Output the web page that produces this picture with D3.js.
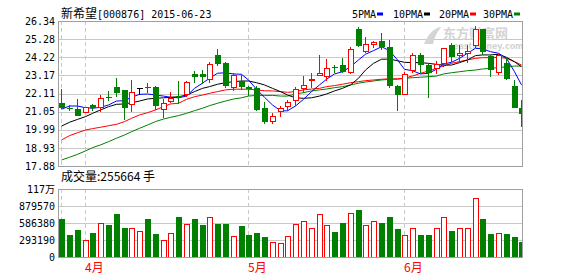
<!DOCTYPE html>
<html>
<head>
<meta charset="utf-8">
<script src="https://cdn.jsdelivr.net/npm/d3@7/dist/d3.min.js"></script>
<style>
body { margin: 0; background: #fff; }
svg text { font-family: "DejaVu Sans Mono", "Noto Sans CJK SC", monospace; font-size: 10px; fill: #000; }
svg .cjk { font-family: "Noto Sans CJK SC", sans-serif; font-size: 12px; }
</style>
</head>
<body>
<svg id="chart" width="578" height="276"></svg>
<script>
// ---- data ----
var stockName = "新希望";
var stockCode = "[000876]";
var lastDate = "2015-06-23";

var dates = ["03-27","03-30","03-31",
  "04-01","04-02","04-03","04-07","04-08","04-09","04-10","04-13","04-14","04-15","04-16","04-17",
  "04-20","04-21","04-22","04-23","04-24","04-27","04-28","04-29","04-30",
  "05-04","05-05","05-06","05-07","05-08","05-11","05-12","05-13","05-14","05-15",
  "05-18","05-19","05-20","05-21","05-22","05-25","05-26","05-27","05-28","05-29",
  "06-01","06-02","06-03","06-04","06-05","06-08","06-09","06-10","06-11","06-12",
  "06-15","06-16","06-17","06-18","06-19","06-23"];

var opens = [21.57,21.26,21.19,21.01,21.44,21.30,21.91,22.49,22.31,21.44,
  22.41,22.51,22.49,21.15,21.67,21.96,22.04,23.25,23.25,22.90,
  24.37,23.89,22.47,22.82,22.51,22.45,21.26,20.47,21.07,21.38,
  21.73,22.41,22.86,23.15,23.09,23.67,23.79,23.35,25.87,24.55,
  24.94,25.17,24.81,22.55,22.06,23.44,24.36,23.77,23.58,23.87,
  24.92,24.30,24.46,24.92,25.86,24.32,23.32,23.87,22.55,21.28];
var highs = [22.37,21.44,21.79,21.32,21.48,22.00,22.26,23.00,22.34,22.90,
  22.43,22.74,22.55,21.77,22.21,22.84,22.82,23.44,23.48,23.97,
  24.71,23.95,23.29,23.19,22.52,22.57,21.60,20.95,21.38,21.73,
  22.51,23.13,23.32,24.37,24.12,23.77,24.18,24.84,26.01,25.42,
  25.17,25.62,25.23,22.58,23.38,24.46,24.49,23.81,24.02,24.79,
  25.07,24.92,24.92,26.05,25.87,24.36,24.40,24.20,22.90,21.73];
var lows = [21.23,21.11,20.81,20.97,21.11,21.05,21.67,21.92,20.56,21.05,
  22.02,22.16,21.15,20.70,21.54,21.50,21.92,22.71,22.66,22.71,
  23.71,22.41,22.27,22.31,21.96,21.09,20.33,20.33,20.76,21.09,
  21.38,22.16,22.41,23.15,22.86,23.29,23.31,23.23,24.82,24.46,
  24.75,24.65,22.41,21.11,22.02,23.29,23.29,21.86,23.23,23.67,
  23.97,23.87,23.87,24.75,24.36,23.09,23.19,22.90,21.26,20.17];
var closes = [21.28,21.23,20.81,21.28,21.25,21.79,21.87,22.16,21.28,22.18,
  22.41,22.47,21.38,21.54,21.79,21.91,22.78,23.05,23.05,23.81,
  23.81,22.55,23.17,22.51,22.37,21.15,20.47,20.76,21.22,21.60,
  22.35,22.59,22.94,23.29,23.58,23.64,23.35,24.69,24.88,24.98,
  25.07,24.84,22.55,22.02,23.19,24.34,23.79,23.29,23.81,24.76,
  24.26,24.46,24.57,25.86,24.55,23.48,24.32,22.94,21.28,20.90];

var volumes = [660000,379000,466000,288000,414000,581000,552000,742000,500000,495000,
  443000,660000,397000,288000,409000,690000,564000,660000,552000,685000,
  569000,569000,345000,535000,379000,414000,345000,254000,241000,362000,
  569000,616000,500000,736000,535000,431000,586000,754000,811000,547000,
  616000,586000,690000,483000,379000,500000,379000,379000,500000,685000,
  448000,483000,483000,1017000,655000,397000,397000,397000,345000,255664];

var ma5 = [21.19,21.38,21.38,21.28,21.25,21.30,21.44,21.67,21.69,21.89,
  22.06,22.08,22.02,21.96,21.89,21.86,21.96,22.41,22.71,23.00,
  23.29,23.32,23.25,23.23,22.90,22.36,21.89,21.44,21.10,21.10,
  21.38,21.77,22.22,22.61,22.94,23.25,23.38,23.67,24.07,24.40,
  24.61,24.84,24.61,24.07,23.52,23.44,23.25,23.29,23.52,23.83,
  23.93,24.16,24.46,24.75,24.71,24.55,24.46,24.16,23.38,22.61];
var ma10 = [20.21,20.43,20.60,20.76,20.95,21.15,21.34,21.48,21.50,21.57,
  21.67,21.79,21.83,21.86,21.89,21.92,22.02,22.22,22.41,22.51,
  22.65,22.74,22.80,22.84,22.84,22.74,22.61,22.41,22.22,22.02,
  21.86,21.83,21.86,21.96,22.08,22.26,22.41,22.61,23.00,23.48,
  23.87,24.11,24.12,24.02,23.93,23.91,23.91,23.87,23.81,23.77,
  23.77,23.91,24.07,24.32,24.36,24.36,24.40,24.22,23.96,23.67];
var ma20 = [19.40,19.65,19.82,19.98,20.06,20.14,20.23,20.31,20.47,20.66,
  20.86,20.99,21.15,21.34,21.50,21.54,21.77,21.92,22.02,22.12,
  22.22,22.32,22.36,22.36,22.36,22.32,22.27,22.26,22.22,22.18,
  22.22,22.32,22.37,22.41,22.51,22.57,22.65,22.74,22.80,22.86,
  22.90,22.94,22.97,22.97,23.00,23.13,23.29,23.42,23.58,23.71,
  23.87,23.97,24.07,24.16,24.20,24.20,24.22,24.16,23.97,23.77];
var ma30 = [18.23,18.39,18.56,18.76,18.95,19.11,19.30,19.50,19.69,19.88,
  20.08,20.27,20.47,20.62,20.72,20.82,20.95,21.11,21.25,21.40,
  21.54,21.67,21.79,21.86,21.96,22.00,22.00,22.00,21.96,21.96,
  22.08,22.16,22.26,22.32,22.37,22.45,22.51,22.61,22.71,22.78,
  22.84,22.90,22.94,22.94,23.00,23.03,23.06,23.09,23.13,23.25,
  23.32,23.38,23.44,23.48,23.54,23.58,23.62,23.67,23.71,23.71];

var priceTicks = [17.88,18.93,19.99,21.05,22.11,23.17,24.22,25.28,26.34];
var volTicks = [0,293190,586380,879570,1172760];
var volTickLabels = ["0","293190","586380","879570","117万"];
var maNames = ["5PMA","10PMA","20PMA","30PMA"];
var maColors = ["#0000ff","#000000","#ff0000","#008000"];
var volumeLabel = "成交量:255664 手";

// ---- layout ----
var left = 58, right = 522.5;
var pTop = 21, pBottom = 166;
var vTop = 189, vBottom = 257;
var upColor = "#ff0000", downColor = "#008000";
var gridColor = "#c8c8c8", frameColor = "#a0a0a0";

var svg = d3.select("#chart");

var x = d3.scaleBand().domain(d3.range(dates.length)).range([57.3, 525.3]);
function cx(i){ return Math.round(x(i) + x.step() / 2); }

var y = d3.scaleLinear().domain([17.88, 26.34]).range([pBottom, pTop]);
var yv = d3.scaleLinear().domain([0, 1172760]).range([vBottom, vTop]);

svg.append("defs").append("clipPath").attr("id", "clip")
  .append("rect").attr("x", left).attr("y", 0).attr("width", right - left).attr("height", 276);

// horizontal grid
svg.append("g").selectAll("line").data(priceTicks).enter().append("line")
  .attr("x1", left).attr("x2", right)
  .attr("y1", function(d){ return Math.round(y(d)) + 0.5; })
  .attr("y2", function(d){ return Math.round(y(d)) + 0.5; })
  .attr("stroke", gridColor);
svg.append("g").selectAll("line").data(volTicks).enter().append("line")
  .attr("x1", left).attr("x2", right)
  .attr("y1", function(d){ return Math.round(yv(d)) + 0.5; })
  .attr("y2", function(d){ return Math.round(yv(d)) + 0.5; })
  .attr("stroke", gridColor);

// month separators
var monthStarts = [];
dates.forEach(function(d, i){
  if (i == 0 || d.slice(0,2) != dates[i-1].slice(0,2)) monthStarts.push(i);
});
var vg = svg.append("g");
monthStarts.forEach(function(i){
  [[pTop, pBottom], [vTop, vBottom]].forEach(function(r){
    vg.append("line").attr("x1", cx(i) + 0.5).attr("x2", cx(i) + 0.5)
      .attr("y1", r[0]).attr("y2", r[1])
      .attr("stroke", gridColor).attr("stroke-dasharray", "4,3");
  });
});
svg.append("g").selectAll("text").data(monthStarts.slice(1)).enter().append("text")
  .attr("class", "cjk")
  .attr("x", function(i){ return cx(i); })
  .attr("y", 272)
  .style("fill", "#ff0000")
  .text(function(i){ return (+dates[i].slice(0,2)) + "月"; });

// watermark
var wm = svg.append("g").attr("fill", "#d4d4d4");
wm.append("text").attr("x", 443).attr("y", 38).style("font-family", "Noto Sans CJK SC")
  .style("font-size", "13px").style("font-weight", "bold").style("fill", "#d4d4d4").text("东方财富网");
wm.append("text").attr("x", 453).attr("y", 49).style("font-family", "DejaVu Sans")
  .style("font-size", "8px").style("font-weight", "bold").style("fill", "#d4d4d4").text("eastmoney.com");
wm.append("path").attr("d", "M424,44 C428,34 434,28 441,27 C437,32 434,38 433,44 Z");

// MA lines
var plot = svg.append("g").attr("clip-path", "url(#clip)");
[ma30, ma20, ma10, ma5].forEach(function(s, k){
  var line = d3.line().x(function(d, i){ return cx(i) + 0.5; }).y(function(d){ return y(d); });
  plot.append("path").datum(s).attr("d", line).attr("fill", "none")
    .attr("stroke", maColors[3 - k]).attr("stroke-width", 1);
});

// candles
var idx = d3.range(dates.length);
var cg = plot.append("g").attr("shape-rendering", "crispEdges");
function candleColor(i){
  if (closes[i] > opens[i]) return upColor;
  if (closes[i] < opens[i]) return downColor;
  return "#000000";
}
cg.selectAll("line.wick").data(idx).enter().append("line").attr("class", "wick")
  .attr("x1", function(i){ return cx(i) + 0.5; })
  .attr("x2", function(i){ return cx(i) + 0.5; })
  .attr("y1", function(i){ return y(highs[i]); })
  .attr("y2", function(i){ return y(lows[i]); })
  .attr("stroke", candleColor);
cg.selectAll("rect.body").data(idx).enter().append("rect").attr("class", "body")
  .attr("x", function(i){ return closes[i] > opens[i] ? cx(i) - 2 : cx(i) - 2.5; })
  .attr("width", function(i){ return closes[i] > opens[i] ? 5 : 6; })
  .attr("y", function(i){ return y(Math.max(opens[i], closes[i])); })
  .attr("height", function(i){ return Math.max(1, Math.abs(y(opens[i]) - y(closes[i]))); })
  .attr("fill", function(i){ return closes[i] > opens[i] ? "#fff" : candleColor(i); })
  .attr("stroke", function(i){ return closes[i] > opens[i] ? upColor : "none"; });

// volume bars
var vbg = plot.append("g").attr("shape-rendering", "crispEdges");
vbg.selectAll("rect").data(idx).enter().append("rect")
  .attr("x", function(i){ return closes[i] >= opens[i] ? cx(i) - 2 : cx(i) - 2.5; })
  .attr("width", function(i){ return closes[i] >= opens[i] ? 5 : 6; })
  .attr("y", function(i){ return yv(volumes[i]); })
  .attr("height", function(i){ return vBottom - yv(volumes[i]); })
  .attr("fill", function(i){ return closes[i] >= opens[i] ? "#fff" : downColor; })
  .attr("stroke", function(i){ return closes[i] >= opens[i] ? upColor : "none"; });

// frames
[[pTop, pBottom], [vTop, vBottom]].forEach(function(r){
  svg.append("rect").attr("x", left + 0.5).attr("y", r[0] + 0.5)
    .attr("width", right - left - 0.5).attr("height", r[1] - r[0])
    .attr("fill", "none").attr("stroke", frameColor).attr("shape-rendering", "crispEdges");
});

// y axis labels
svg.append("g").selectAll("text").data(priceTicks).enter().append("text")
  .attr("x", 55).attr("y", function(d){ return y(d); }).attr("dy", "0.36em")
  .attr("text-anchor", "end").text(function(d){ return d.toFixed(2); });
svg.append("g").selectAll("text").data(volTicks).enter().append("text")
  .attr("x", 55).attr("y", function(d){ return yv(d); }).attr("dy", "0.36em")
  .attr("text-anchor", "end").text(function(d, i){ return volTickLabels[i]; });

// title
var title = svg.append("text").attr("x", 61).attr("y", 18);
title.append("tspan").attr("class", "cjk").text(stockName);
title.append("tspan").text(stockCode + " " + lastDate);

// legend
var dashX = [377, 424, 470, 514];
var lg = svg.append("g").selectAll("g").data(maNames).enter().append("g");
lg.append("text").attr("x", function(d, i){ return dashX[i] - 1; }).attr("y", 18)
  .attr("text-anchor", "end").text(function(d){ return d; });
lg.append("rect").attr("x", function(d, i){ return dashX[i]; }).attr("y", 12.5)
  .attr("width", 6).attr("height", 3).attr("fill", function(d, i){ return maColors[i]; });

// volume caption
svg.append("text").attr("class", "cjk").attr("x", 61).attr("y", 181).text(volumeLabel);
</script>
</body>
</html>
